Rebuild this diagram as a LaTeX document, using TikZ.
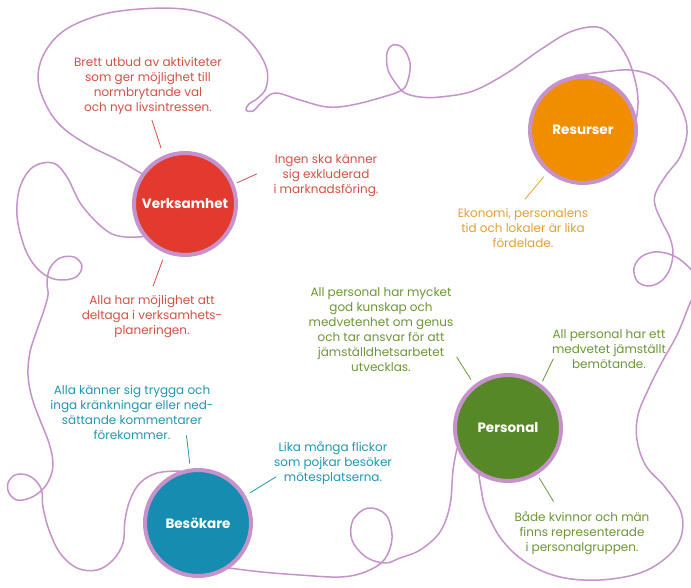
\documentclass[tikz,border=0pt]{standalone}
\usepackage{fontspec}
\setmainfont{Poppins}
\usetikzlibrary{backgrounds}

\definecolor{lilac}{RGB}{198,146,204}
\definecolor{verkred}{RGB}{226,58,46}
\definecolor{resorange}{RGB}{240,142,0}
\definecolor{persgreen}{RGB}{86,136,40}
\definecolor{besteal}{RGB}{22,140,176}
\definecolor{verktext}{RGB}{210,82,68}
\definecolor{restext}{RGB}{228,160,50}
\definecolor{perstext}{RGB}{108,150,54}
\definecolor{bestext}{RGB}{34,150,178}

\tikzset{
  hub/.style={circle, draw=lilac, line width=4pt, minimum size=106pt, inner sep=0pt,
    text=white, font=\fontsize{13.5}{16}\selectfont\bfseries},
  note/.style={align=center, inner sep=2pt, font=\fontsize{12}{15}\selectfont},
  tick/.style={line width=0.8pt},
  thread/.style={draw=lilac, line width=1.5pt, line cap=round, line join=round}
}

\begin{document}
\begin{tikzpicture}[x=1pt, y=-1pt]
                \useasboundingbox (0,0) rectangle (691,588);

                % Circles
                \node[hub, fill=verkred, minimum size=102pt] (verk) at (185,204) {Verksamhet};
                \node[hub, fill=resorange] (res) at (583,130) {Resurser};
                \node[hub, fill=persgreen] (pers) at (508,428) {Personal};
                \node[hub, fill=besteal] (besok) at (198,523) {Besökare};

                % Texts
                \node[note, text=verktext] (brett) at (148,85.5) {Brett utbud av aktiviteter\\som ger möjlighet till\\normbrytande val\\och nya livsintressen.};
                \node[note, text=verktext] (ingen) at (326,176) {Ingen ska känner\\sig exkluderad\\i marknadsföring.};
                \node[note, text=verktext] (allahar) at (152,317) {Alla har möjlighet att\\deltaga i verksamhets-\\planeringen.};
                \node[note, text=bestext] (trygga) at (132,412) {Alla känner sig trygga och\\inga kränkningar eller ned-\\sättande kommentarer\\förekommer.};
                \node[note, text=bestext] (lika) at (333,463) {Lika många flickor\\som pojkar besöker\\mötesplatserna.};
                \node[note, text=perstext] (kunskap) at (381,329.5) {All personal har mycket\\god kunskap och\\medvetenhet om genus\\och tar ansvar för att\\jämställdhetsarbetet\\utvecklas.};
                \node[note, text=perstext] (bemot) at (609,349) {All personal har ett\\medvetet jämställt\\bemötande.};
                \node[note, text=perstext] (bada) at (582,533) {Både kvinnor och män\\finns representerade\\i personalgruppen.};
                \node[note, text=restext] (ekonomi) at (523,228) {Ekonomi, personalens\\tid och lokaler är lika\\fördelade.};

                % Ticks from circles to texts
                \draw[tick, verktext, shorten <=8pt, shorten >=4pt] (verk.114) -- (brett.-85);
                \draw[tick, verktext, shorten <=3pt, shorten >=16pt] (verk.22) -- (ingen.171);
                \draw[tick, verktext, shorten <=7pt, shorten >=8pt] (verk.248) -- (allahar.94);
                \draw[tick, bestext, shorten <=5pt, shorten >=-6pt] (besok.98) -- (trygga.-28);
                \draw[tick, bestext, shorten <=5pt, shorten >=-5pt] (besok.30) -- (lika.195);
                \draw[tick, perstext, shorten <=6pt, shorten >=2pt] (pers.128) -- (kunskap.-19);
                \draw[tick, perstext, shorten <=3pt, shorten >=-8pt] (pers.53) -- (bemot.196);
                \draw[tick, perstext, shorten <=4pt, shorten >=9pt] (pers.-58) -- (bada.135);
                \draw[tick, restext, shorten <=6pt, shorten >=9pt] (res.230) -- (ekonomi.100);

                % Thread behind the circles
                \begin{scope}[on background layer]
                \fill[white] (0,0) rectangle (691,588);
                % Verksamhet -> Resurser
                \draw[thread] plot[smooth, tension=0.6] coordinates {(verk.145) (118,160) (88,145) (62,127) (46,105) (38,78) (45,52) (65,30) (100,15) (140,9) (183,9) (215,17) (240,32) (257,50) (267,70) (266,88) (258,98) (249,104) (246,110) (253,111) (262,102) (275,93) (300,100) (327,107) (352,105) (383,97) (402,90) (408,80) (410,63) (403,48) (393,45) (387,53) (388,70) (397,85) (405,93) (420,97) (440,97) (473,91) (507,73) (540,50) (570,32) (597,27) (613,37) (627,57) (635,80) (638,100) (res.13)};
                % Resurser -> Personal
                \draw[thread] plot[smooth, tension=0.6] coordinates {(res.99) (603,72) (630,70) (653,76) (670,90) (683,112) (687,133) (680,157) (667,174) (656,192) (655,205) (662,222) (670,238) (673,254) (669,271) (660,282) (648,286) (637,281) (634,268) (641,257) (654,252) (669,254) (682,261) (694,274) (696,288) (688,308) (677,335) (662,362) (648,390) (638,415) (637,440) (646,466) (665,487) (681,512) (681,537) (667,557) (640,573) (600,580) (560,577) (527,563) (502,540) (486,510) (481,488) (pers.238)};
                % Personal -> Besökare
                \draw[thread] plot[smooth, tension=0.6] coordinates {(pers.202) (453,470) (450,505) (440,532) (420,550) (400,558) (385,563) (366,557) (352,540) (353,520) (368,508) (386,515) (392,538) (384,560) (365,572) (340,577) (300,575) (262,572) (besok.305)};
                % Besökare -> Verksamhet
                \draw[thread] plot[smooth, tension=0.6] coordinates {(besok.109) (157,473) (140,483) (130,500) (125,520) (123,543) (113,560) (97,570) (77,568) (60,553) (49,530) (43,507) (42,492) (37,482) (27,475) (15,475) (8,483) (9,493) (17,500) (30,498) (42,490) (50,478) (53,463) (49,443) (40,420) (32,398) (28,375) (30,352) (37,330) (44,310) (48,295) (47,282) (50,268) (60,258) (74,257) (82,266) (76,277) (60,280) (45,275) (32,262) (23,243) (17,215) (20,187) (33,167) (53,163) (67,177) (83,207) (112,234) (verk.218)};
                \end{scope}
            \end{tikzpicture}
\end{document}
